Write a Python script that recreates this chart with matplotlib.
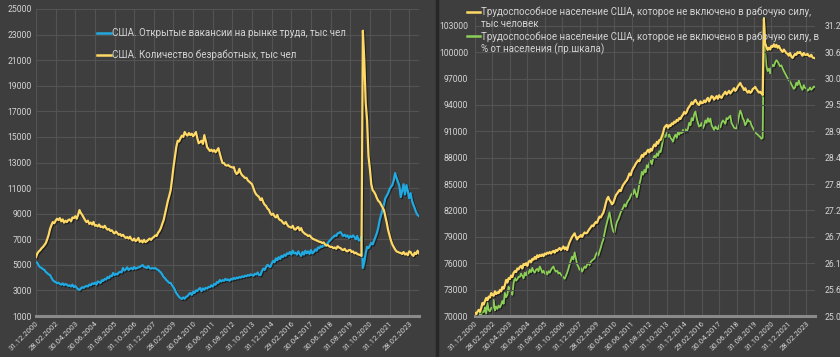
import matplotlib.pyplot as plt
import matplotlib.patheffects as pe
from matplotlib.lines import Line2D
import numpy as np

# monthly points, index 0 = 31.12.2000
TICK_LABELS = [
    "31.12.2000", "28.02.2002", "30.04.2003", "30.06.2004", "31.08.2005",
    "31.10.2006", "31.12.2007", "28.02.2009", "30.04.2010", "30.06.2011",
    "31.08.2012", "31.10.2013", "31.12.2014", "29.02.2016", "30.04.2017",
    "30.06.2018", "31.08.2019", "31.10.2020", "31.12.2021", "28.02.2023",
]
TICK_STEP = 14

# left chart: job openings, thousands
job_openings = [
    5200, 5150, 4950, 4800, 4750, 4650, 4600, 4450, 4350, 4250, 4200, 4000,
    3810, 3700, 3650, 3550, 3600, 3500, 3450, 3550, 3400, 3500, 3450, 3350,
    3400, 3300, 3450, 3250, 3350, 3200, 3100, 3030, 3150, 3250, 3200, 3300,
    3350, 3300, 3450, 3400, 3550, 3500, 3600, 3450, 3700, 3650, 3580, 3800,
    3750, 3900, 3850, 4050, 3950, 4150, 4100, 4360, 4200, 4300, 4250, 4400,
    4450, 4400, 4750, 4550, 4650, 4800, 4600, 4700, 4750, 4650, 4830, 4700,
    4750, 4800, 4830, 4900, 4980, 4850, 4800, 4750, 4900, 4750, 4700, 4750,
    4700, 4750, 4650, 4600, 4500, 4400, 4250, 4050, 3950, 3800, 3700, 3580,
    3580, 3400, 3250, 3050, 2800, 2650, 2500, 2400, 2330, 2450, 2350, 2500,
    2550, 2700, 2800, 2650, 2900, 2800, 3000, 2950, 3100, 3190, 2950, 3150,
    3050, 3200, 3150, 3270, 3250, 3400, 3300, 3500, 3450, 3650, 3600, 3810,
    3700, 3800, 3750, 3900, 3800, 3850, 3750, 3900, 3850, 3970, 3900, 4000,
    3950, 4050, 4000, 4100, 4050, 4150, 4100, 4200, 4150, 4250, 4200, 4150,
    4300, 4250, 4400, 4200, 4200, 4500, 4700, 4600, 4830, 5000, 4900, 4830,
    5100, 5300, 5200, 5500, 5370, 5600, 5450, 5700, 5600, 5800, 5700, 5900,
    5850, 6000, 5800, 6100, 5900, 5950, 5800, 6050, 5850, 5700, 6000, 5800,
    6100, 5900, 6050, 5850, 6150, 5900, 6000, 6200, 6100, 6350, 6300, 6450,
    6400, 6550, 6500, 6600, 6700, 6850, 6950, 7100, 7170, 7300, 7250, 7450,
    7500, 7560, 7400, 7250, 7350, 7200, 7300, 7100, 7250, 7150, 7300, 7170,
    7000, 7250, 6900, 6940, 7200, 4750, 5200, 5900, 6400, 6300, 6500, 6700,
    6600, 6900, 7200, 7480, 7900, 8500, 8900, 9280, 9700, 10200, 10400, 10600,
    10900, 11100, 11230, 11600, 12170, 11800, 11500, 11200, 10300, 10800, 11300, 10500,
    11230, 10800, 10200, 10600, 10000, 9700, 9400, 9100, 8900, 8800,
]

# left chart: unemployed, thousands
unemployed = [
    5600, 5900, 6050, 6150, 6300, 6400, 6550, 6700, 7000, 7330, 7800, 8100,
    8340, 8250, 8450, 8600, 8500, 8650, 8400, 8550, 8300, 8450, 8340, 8500,
    8550, 8400, 8700, 8650, 8800, 8600, 8900, 9280, 9050, 8900, 8700, 8500,
    8340, 8450, 8200, 8300, 8150, 8350, 8050, 8100, 8000, 8150, 7950, 8000,
    7900, 8050, 7870, 7750, 7800, 7650, 7700, 7550, 7450, 7600, 7480, 7350,
    7400, 7250, 7350, 7200, 7100, 7170, 7050, 7200, 7000, 6900, 7050, 6850,
    6940, 7100, 6800, 6900, 6750, 6950, 6780, 6850, 6950, 7050, 6950, 7100,
    7170, 7300, 7250, 7500, 7650, 7870, 8200, 8500, 9000, 9500, 10000, 10400,
    10840, 11700, 12640, 13400, 14200, 14700, 14650, 14900, 15100, 15000, 15380, 15200,
    15100, 15300, 15140, 15250, 15050, 15200, 15380, 14900, 14500, 14600, 14700, 14450,
    15140, 14700, 14200, 14050, 13900, 14000, 13850, 13970, 13800, 13950, 14120, 13700,
    13300, 12950, 12950, 12800, 12750, 12800, 12700, 12650, 12600, 12640, 12300, 12100,
    12200, 12500, 12170, 12000, 11900, 11780, 11800, 11600, 11500, 11390, 11300, 11000,
    10700, 10500, 10400, 10300, 10060, 10200, 9900, 9700, 9600, 9400, 9300, 9050,
    8900, 9000, 8800, 8700, 8900, 8600, 8500, 8450, 8300, 8200, 8350, 8150,
    8000, 7950, 7900, 8050, 7800, 7750, 7900, 7950, 7700, 7870, 7600, 7500,
    7400, 7350, 7250, 7300, 7170, 7050, 7000, 6950, 6900, 6850, 6800, 6780,
    6700, 6750, 6600, 6500, 6550, 6450, 6390, 6400, 6300, 6350, 6250, 6450,
    6350, 6310, 6200, 6150, 6250, 6100, 6050, 6150, 6160, 6000, 6050, 5900,
    5950, 5850, 5800, 5770, 5700, 23300, 21000, 17700, 16300, 13500, 12500, 11300,
    10840, 10700, 10500, 10220, 10000, 9900, 9700, 9500, 9280, 8800, 8300, 7720,
    7300, 6900, 6600, 6390, 6200, 6050, 6000, 5950, 5920, 5850, 6000, 5800,
    5900, 5750, 6050, 6000, 5800, 5700, 5950, 5850, 6100, 5900,
]

# right chart: not in labor force, thousands
not_in_lf = [
    70340, 70200, 70500, 70700, 70460, 70900, 71480, 71300, 71700, 72050, 71800, 72200,
    72100, 72600, 72400, 72300, 72800, 72500, 72700, 72600, 72960, 72800, 73300, 73100,
    73500, 74100, 73800, 74300, 74200, 74600, 74440, 74900, 75100, 75000, 75400, 75300,
    75570, 75700, 75400, 75900, 75800, 76000, 75700, 76140, 76300, 76100, 76500, 76400,
    76700, 76500, 76900, 76700, 76940, 76800, 77000, 76800, 77100, 77000, 77200, 77100,
    77280, 77100, 77300, 77400, 77200, 77500, 77400, 77600, 77730, 77500, 77700, 77900,
    77600, 77800, 77500, 78000, 78400, 78700, 79000, 79210, 79400, 79000, 78700, 78990,
    78990, 79200, 79000, 79300, 79500, 79400, 79440, 79700, 79900, 80100, 80300, 80200,
    80500, 80690, 80600, 81000, 81300, 81200, 81500, 81720, 82200, 82800, 83300, 83540,
    83200, 83000, 82700, 82860, 83300, 83700, 83900, 84100, 84330, 84200, 84600, 84900,
    85100, 85300, 85470, 85800, 86200, 86000, 86500, 86800, 87000, 87300, 87500, 87700,
    87600, 87970, 88300, 88100, 88500, 88400, 88700, 88900, 88600, 89000, 88800, 89230,
    89500, 89300, 89800, 89600, 90000, 90020, 90400, 90800, 91400, 91600, 91730, 91400,
    91700, 91600, 91900, 91800, 92100, 92000, 92300, 92200, 92500, 92400, 92700, 92900,
    93200, 93000, 93210, 93600, 93800, 94000, 94300, 94100, 94400, 94570, 94300, 94100,
    94000, 94400, 94200, 94230, 94500, 94300, 94600, 94800, 94400, 94700, 95000, 94910,
    94600, 94800, 95000, 94700, 95100, 94900, 94800, 95100, 95300, 95500, 95200, 95400,
    95600, 95300, 95500, 95710, 95900, 95600, 95800, 96100, 96300, 96500, 96200, 96000,
    95700, 95900, 95600, 95400, 95600, 95370, 95500, 95800, 95900, 96050, 95800, 95600,
    95400, 95500, 95300, 95140, 103790, 101000, 100600, 100260, 100500, 100300, 100700, 100600,
    100900, 100600, 100830, 100500, 100700, 100400, 100200, 100030, 100300, 100100, 99900, 99800,
    99600, 99900, 99500, 99350, 99600, 99800, 99700, 100000, 99900, 100030, 99800, 99600,
    99900, 99700, 99690, 99800, 99600, 99500, 99700, 99400, 99350, 99300,
]

# right chart: not in labor force, % of population (right scale)
not_in_lf_pct = [
    24.90, 24.95, 24.93, 24.98, 25.06, 25.03, 25.10, 25.08, 25.19, 25.05, 25.28, 25.12,
    25.10, 25.17, 25.15, 25.34, 25.12, 25.20, 25.15, 25.22, 25.18, 25.24, 25.32, 25.26,
    25.49, 25.40, 25.45, 25.62, 25.55, 25.49, 25.45, 25.70, 25.81, 25.75, 25.78, 25.83,
    25.83, 25.90, 25.85, 25.80, 25.92, 25.86, 25.95, 25.90, 25.98, 25.93, 26.02, 25.95,
    25.92, 25.98, 26.00, 25.95, 26.05, 26.00, 25.92, 25.96, 25.90, 25.94, 25.88, 25.95,
    25.92, 25.98, 26.02, 26.05, 25.98, 25.94, 25.96, 25.90, 25.92, 25.88, 25.85, 25.82,
    25.79, 25.85, 25.92, 26.00, 26.10, 26.18, 26.26, 26.20, 26.35, 26.22, 26.10, 26.05,
    25.98, 26.02, 25.94, 26.00, 26.05, 26.02, 26.09, 26.12, 26.08, 26.15, 26.18, 26.20,
    26.22, 26.30, 26.35, 26.28, 26.37, 26.45, 26.55, 26.62, 26.75, 26.88, 26.99, 27.10,
    27.20, 27.05, 26.90, 26.80, 26.77, 26.90, 27.00, 27.05, 27.12, 27.20, 27.25, 27.30,
    27.37, 27.32, 27.40, 27.45, 27.48, 27.55, 27.60, 27.58, 27.69, 27.60, 27.52, 27.65,
    27.80, 27.90, 28.06, 28.00, 28.10, 28.05, 28.20, 28.15, 28.25, 28.30, 28.22, 28.34,
    28.40, 28.35, 28.45, 28.40, 28.50, 28.48, 28.60, 28.75, 28.85, 28.80, 28.91, 28.80,
    28.85, 28.78, 28.75, 28.70, 28.80, 28.85, 28.78, 28.90, 28.85, 28.91, 28.88, 28.95,
    28.90, 28.96, 28.92, 28.98, 29.10, 29.05, 29.20, 29.15, 29.28, 29.34, 29.20, 29.10,
    29.02, 29.04, 29.10, 28.98, 29.05, 29.15, 29.10, 29.20, 29.12, 29.19, 29.05, 29.00,
    28.95, 29.02, 28.98, 28.96, 29.05, 29.00, 29.10, 29.15, 29.12, 29.08, 29.20, 29.18,
    29.22, 29.25, 29.10, 29.05, 29.00, 28.98, 28.98, 29.10, 29.25, 29.36, 29.30, 29.20,
    29.15, 29.05, 29.10, 29.18, 29.13, 29.13, 29.05, 29.00, 28.95, 28.90, 28.87, 28.85,
    28.82, 28.80, 28.76, 28.78, 31.33, 30.60, 30.30, 30.20, 30.25, 30.15, 30.28, 30.33,
    30.30, 30.38, 30.43, 30.40, 30.35, 30.30, 30.32, 30.26, 30.20, 30.15, 30.10, 30.05,
    30.00, 29.98, 29.92, 29.87, 29.82, 29.85, 29.95, 29.90, 30.00, 29.92, 29.85, 29.80,
    29.90, 29.84, 29.83, 29.78, 29.80, 29.85, 29.80, 29.83, 29.87, 29.86,
]

LEFT_LABELS = [
    "США. Открытые вакансии на рынке труда, тыс чел",
    "США. Количество безработных, тыс чел",
]
RIGHT_LABELS = [
    "Трудоспособное население США, которое не включено в рабочую силу,\nтыс человек",
    "Трудоспособное население США, которое не включено в рабочую силу, в\n% от населения (пр.шкала)",
]

BG = "#3e3e3e"
GRID = "#535353"
TEXT = "#d4d4d4"
BLUE = "#21a9e1"
YELLOW = "#ffd966"
GREEN = "#8ccf55"

plt.rcParams["font.family"] = ["Roboto", "DejaVu Sans"]

SHADOW = [pe.SimpleLineShadow(offset=(0.8, -0.8), shadow_color="black", alpha=0.5), pe.Normal()]


def style_axes(ax, n):
    ax.set_facecolor(BG)
    for side in ("top", "right", "left"):
        ax.spines[side].set_visible(False)
    ax.spines["bottom"].set_color("#8a8a8a")
    ax.spines["bottom"].set_linewidth(2.2)
    ticks = [i * TICK_STEP for i in range(len(TICK_LABELS))]
    ax.set_xticks(ticks)
    ax.set_xticklabels(TICK_LABELS, rotation=45, ha="right", rotation_mode="anchor")
    ax.set_xlim(0, n - 1)
    ax.grid(True, color=GRID, linewidth=0.8)
    ax.set_axisbelow(True)
    ax.tick_params(axis="y", length=0, colors=TEXT, labelsize=6.2)
    ax.tick_params(axis="x", length=0, colors=TEXT, labelsize=5.6, pad=3)


def legend_entry(ax, x, y_handle, y_text, color, text):
    # hand-placed legend row: short line + label, axes coordinates
    ax.add_line(Line2D([x, x + 0.038], [y_handle, y_handle], color=color, lw=1.8,
                       transform=ax.transAxes, clip_on=False))
    ax.text(x + 0.04, y_text, text, transform=ax.transAxes, color=TEXT, fontsize=7,
            va="top" if "\n" in text else "center", linespacing=1.25)


def main():
    fig = plt.figure(figsize=(8.4, 3.57), dpi=100)
    fig.patch.set_facecolor(BG)
    W, H = 840, 357

    n = len(job_openings)
    x = np.arange(n)

    # left panel
    ax1 = fig.add_axes([36 / W, (H - 316) / H, 383 / W, 307 / H])
    style_axes(ax1, n)
    ax1.plot(x, job_openings, color=BLUE, lw=1.6, path_effects=SHADOW)
    ax1.plot(x, unemployed, color=YELLOW, lw=1.6, path_effects=SHADOW)
    ax1.set_ylim(1000, 25000)
    ax1.set_yticks(range(1000, 25001, 2000))
    ax1.tick_params(axis="y", pad=3)
    legend_entry(ax1, 0.159, 0.922, 0.922, BLUE, LEFT_LABELS[0])
    legend_entry(ax1, 0.159, 0.850, 0.850, YELLOW, LEFT_LABELS[1])

    # right panel
    top_val = 104000
    ax2 = fig.add_axes([475 / W, (H - 316) / H, 340 / W, (316 - 17) / H])
    style_axes(ax2, n)
    ax2.plot(x, not_in_lf, color=YELLOW, lw=1.6, path_effects=SHADOW, zorder=3)
    ax2.set_ylim(70000, top_val)
    ax2.set_yticks(range(70000, 103001, 3000))
    ax2.tick_params(axis="y", pad=5)

    ax3 = ax2.twinx()
    for side in ax3.spines:
        ax3.spines[side].set_visible(False)
    ax3.plot(x, not_in_lf_pct, color=GREEN, lw=1.3, path_effects=SHADOW)
    ax3.set_ylim(25.0, 25.0 + (top_val - 70000) / 3000 * 0.56)
    pct_ticks = [25.0 + k * 0.56 for k in range(12)]
    ax3.set_yticks(pct_ticks)
    ax3.set_yticklabels([f"{v:.1f}" for v in pct_ticks])
    ax3.tick_params(axis="y", length=0, colors=TEXT, labelsize=6.2, pad=7)
    ax2.set_zorder(ax3.get_zorder() + 1)
    ax2.patch.set_visible(False)
    ax3.patch.set_facecolor(BG)

    legend_entry(ax2, -0.023, 1.017, 1.034, YELLOW, RIGHT_LABELS[0])
    legend_entry(ax2, -0.023, 0.936, 0.953, GREEN, RIGHT_LABELS[1])

    # separator between the two panels
    fig.add_artist(Line2D([437 / W, 437 / W], [0, 1], color="#262626", lw=2.5))

    fig.savefig("out.png", dpi=100, facecolor=BG)
    plt.close(fig)


if __name__ == "__main__":
    main()
